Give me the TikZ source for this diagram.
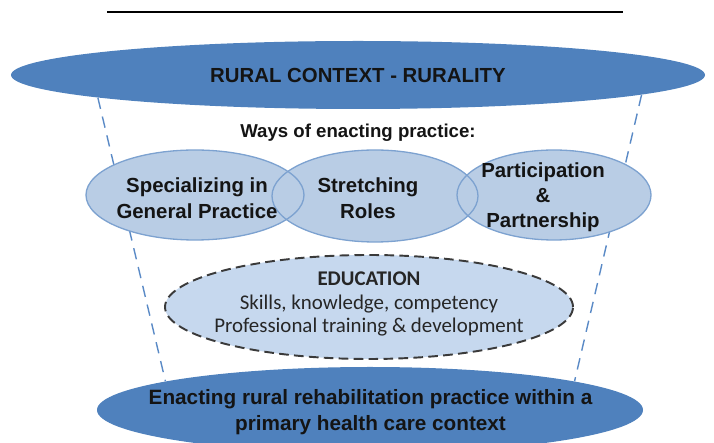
\documentclass[tikz,border=0pt]{standalone}
\usepackage{fontspec}
\setmainfont{Liberation Sans}
\newfontfamily\calfont{Carlito}
\usepackage{xcolor}
\usetikzlibrary{shapes,positioning}

\definecolor{ctxblue}{HTML}{4F81BD}
\definecolor{waysblue}{HTML}{B9CDE5}
\definecolor{waysedge}{HTML}{7DA2D0}
\definecolor{edublue}{HTML}{C6D8EE}
\definecolor{edudash}{HTML}{3A3A3A}
\definecolor{guideblue}{HTML}{5A8AC6}

\begin{document}
\begin{tikzpicture}[
    ctx/.style={ellipse, fill=ctxblue, inner sep=0pt},
    bigtext/.style={font=\fontsize{11.6}{14.7}\selectfont\bfseries, text=black!92, align=center},
    guide/.style={guideblue, line width=0.8pt, dash pattern=on 6.5pt off 4.5pt},
    waysline/.style={waysedge, line width=0.75pt},
  ]
    \clip (0,0) rectangle (14.28,8.86);

    % Rule at the top
    \draw[line width=0.85pt] (2.14,8.62) -- (12.46,8.62);

    % Rural context (top) and practice (bottom)
    \node[ctx, minimum width=13.88cm, minimum height=1.36cm] (rural) at (7.16,7.36) {};
    \node[bigtext] (ruraltxt) at (rural) {RURAL CONTEXT - RURALITY};
    \node[ctx, minimum width=10.92cm, minimum height=1.72cm] (enact) at (7.40,0.66) {};
    \node[bigtext, font=\fontsize{11.8}{14.7}\selectfont\bfseries] (enacttxt) at (7.41,0.62) {Enacting rural rehabilitation practice within a\\primary health care context};

    % Dashed guides, kept behind the three ways
    \draw[guide] (rural.185) -- (enact.172);
    \draw[guide] (rural.-4) -- (enact.8.5);

    \node[bigtext, font=\fontsize{10.6}{13}\selectfont\bfseries] (ways) at (7.16,6.20) {Ways of enacting practice:};

    % Ways of enacting practice: fill all first, then the outlines
    \def\wayslist{3.90/4.96/2.18/0.90, 7.50/4.94/2.06/0.92, 11.08/4.96/1.94/0.90}
    \foreach \x/\y/\rx/\ry in \wayslist
        \fill[waysblue] (\x,\y) ellipse [x radius=\rx, y radius=\ry];
    \foreach \x/\y/\rx/\ry in \wayslist
        \draw[waysline] (\x,\y) ellipse [x radius=\rx, y radius=\ry];
    \node[bigtext] (spec) at (3.94,4.90) {Specializing in\\General Practice};
    \node[bigtext] (stretch) at (7.36,4.90) {Stretching\\Roles};
    \node[bigtext, font=\fontsize{11.6}{14.2}\selectfont\bfseries] (part) at (10.86,4.92) {Participation\\\&\\Partnership};

    % Education
    \node[ellipse, fill=edublue, draw=edudash, line width=1.1pt, dash pattern=on 5.5pt off 3pt,
          minimum width=8.16cm, minimum height=2.08cm, inner sep=0pt] (edu) at (7.38,2.72) {};
    \node[font=\calfont\fontsize{11.9}{13.6}\selectfont, text=black!85, align=center] (edutxt) at (7.38,2.78)
        {\textbf{EDUCATION}\\Skills, knowledge, competency\\Professional training \& development};
\end{tikzpicture}
\end{document}
